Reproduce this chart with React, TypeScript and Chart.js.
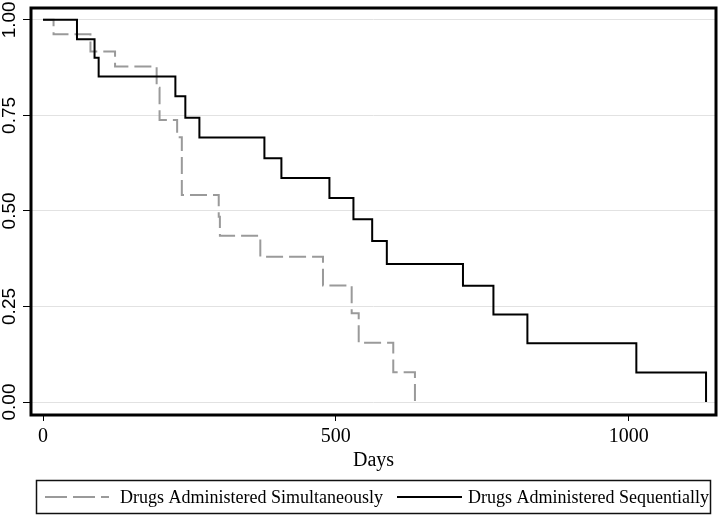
import React, { useEffect, useRef } from "react";
import { Chart, registerables } from "chart.js";

Chart.register(...registerables);

// Kaplan-Meier step points (days, survival probability)
const simDays = [0, 18, 81, 123, 194, 199, 229, 237, 300, 302, 371, 478, 527, 539, 598, 635];
const simSurv = [1, 0.962, 0.917, 0.878, 0.822, 0.738, 0.693, 0.542, 0.485, 0.435, 0.38, 0.305, 0.232, 0.155, 0.078, 0];

const seqDays = [0, 58, 88, 95, 226, 243, 267, 378, 407, 489, 530, 562, 587, 717, 769, 827, 1013, 1132];
const seqSurv = [1, 0.949, 0.901, 0.852, 0.8, 0.744, 0.692, 0.638, 0.586, 0.534, 0.478, 0.421, 0.361, 0.304, 0.229, 0.154, 0.077, 0];

const xTicks = [0, 500, 1000];
const yTicks = [0, 0.25, 0.5, 0.75, 1];
const yTickLabels = ["0.00", "0.25", "0.50", "0.75", "1.00"];
const xTitle = "Days";
const seriesLabels = ["Drugs Administered Simultaneously", "Drugs Administered Sequentially"];

const GRAY = "#9a9a9a";
const BLACK = "#000000";

const overlayPlugin = {
  id: "overlay",
  afterDatasetsDraw(chart: any) {
    const { ctx, chartArea } = chart;
    ctx.save();
    ctx.strokeStyle = "#000";
    ctx.lineWidth = 3;
    ctx.strokeRect(chartArea.left, chartArea.top, chartArea.right - chartArea.left, chartArea.bottom - chartArea.top);
    ctx.restore();
  },
  afterDraw(chart: any) {
    const { ctx } = chart;
    const ys = chart.scales.y;
    // rotated y tick labels
    ctx.save();
    ctx.font = '19px "Liberation Sans", Arial, sans-serif';
    ctx.fillStyle = "#000";
    ctx.textAlign = "center";
    ctx.textBaseline = "middle";
    yTicks.forEach((v, i) => {
      const py = ys.getPixelForValue(v);
      ctx.save();
      ctx.translate(10, py);
      ctx.rotate(-Math.PI / 2);
      ctx.fillText(yTickLabels[i], 0, 0);
      ctx.restore();
    });
    ctx.restore();

    // legend
    const bx = 36.5, by = 480.5, bw = 674, bh = 33;
    const cy = by + bh / 2;
    ctx.save();
    ctx.beginPath();
    ctx.rect(bx, by, bw, bh);
    ctx.clip();
    ctx.lineWidth = 2;
    ctx.strokeStyle = GRAY;
    ctx.setLineDash([22, 6]);
    ctx.beginPath();
    ctx.moveTo(45, cy);
    ctx.lineTo(109, cy);
    ctx.stroke();
    ctx.setLineDash([]);
    ctx.strokeStyle = BLACK;
    ctx.beginPath();
    ctx.moveTo(397, cy);
    ctx.lineTo(462, cy);
    ctx.stroke();
    ctx.font = '18px "Liberation Serif", "Times New Roman", serif';
    ctx.fillStyle = "#000";
    ctx.textAlign = "left";
    ctx.textBaseline = "middle";
    ctx.fillText(seriesLabels[0], 120, cy + 1);
    ctx.fillText(seriesLabels[1], 468, cy + 1);
    ctx.restore();
    ctx.save();
    ctx.lineWidth = 1.5;
    ctx.strokeStyle = "#111";
    ctx.strokeRect(bx, by, bw, bh);
    ctx.restore();
  },
};

export default function App() {
  const ref = useRef<HTMLCanvasElement | null>(null);

  useEffect(() => {
    document.body.style.margin = "0";
    const canvas = ref.current;
    if (!canvas) return;
    const chart = new Chart(canvas, {
      type: "line",
      data: {
        datasets: [
          {
            label: seriesLabels[0],
            data: simDays.map((d, i) => ({ x: d, y: simSurv[i] })),
            borderColor: GRAY,
            borderWidth: 2,
            borderDash: [17, 6],
            stepped: "before",
            pointRadius: 0,
            fill: false,
            order: 1,
          },
          {
            label: seriesLabels[1],
            data: seqDays.map((d, i) => ({ x: d, y: seqSurv[i] })),
            borderColor: BLACK,
            borderWidth: 2,
            stepped: "before",
            pointRadius: 0,
            fill: false,
            order: 0,
          },
        ],
      },
      options: {
        animation: false,
        responsive: false,
        layout: { padding: { top: 8, right: 2, bottom: 37, left: 0 } },
        plugins: { legend: { display: false }, tooltip: { enabled: false } },
        scales: {
          x: {
            type: "linear",
            min: -20.5,
            max: 1149,
            afterBuildTicks: (s: any) => {
              s.ticks = xTicks.map((v) => ({ value: v }));
            },
            afterFit: (s: any) => {
              s.height = 63;
            },
            border: { display: false },
            grid: {
              drawOnChartArea: false,
              drawTicks: true,
              tickLength: 6,
              tickColor: "#000",
              tickWidth: 1,
            },
            ticks: {
              color: "#000",
              padding: 4,
              maxRotation: 0,
              autoSkip: false,
              font: { family: '"Liberation Serif", "Times New Roman", serif', size: 20 },
              callback: (v: any) => String(v),
            },
            title: {
              display: true,
              text: xTitle,
              color: "#000",
              font: { family: '"Liberation Serif", "Times New Roman", serif', size: 20 },
              padding: { top: 0, bottom: 5 },
            },
          },
          y: {
            type: "linear",
            min: -0.034,
            max: 1.031,
            afterBuildTicks: (s: any) => {
              s.ticks = yTicks.map((v) => ({ value: v }));
            },
            afterFit: (s: any) => {
              s.width = 31;
            },
            border: { display: false },
            grid: {
              color: "#e2e2e2",
              lineWidth: 1,
              drawTicks: true,
              tickLength: 8,
              tickColor: "#000",
              tickWidth: 1,
            },
            ticks: { display: false },
          },
        },
      },
      plugins: [overlayPlugin],
    } as any);
    return () => chart.destroy();
  }, []);

  return (
    <div style={{ width: 718, height: 515 }}>
      <canvas ref={ref} width={718} height={515} style={{ display: "block" }} />
    </div>
  );
}
